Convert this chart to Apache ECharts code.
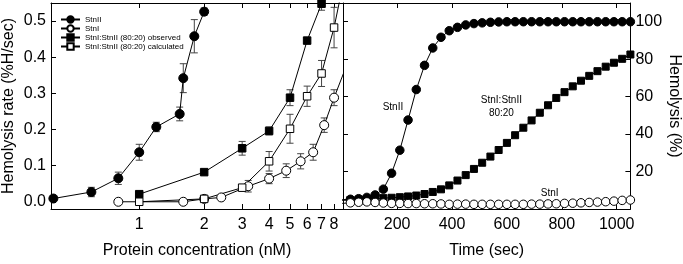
<!DOCTYPE html>
<html><head><meta charset="utf-8">
<script src="https://cdn.jsdelivr.net/npm/echarts@6/dist/echarts.min.js"></script>
<style>html,body{margin:0;padding:0;background:#fff}#c{width:683px;height:264px}</style>
</head><body><div id="c"></div>
<script>
// ---- tick labels ----
const concTicks = [1, 2, 3, 4, 5, 6, 7, 8];
const rateTicks = [0, 0.1, 0.2, 0.3, 0.4, 0.5];
const timeTicks = [200, 400, 600, 800, 1000];
const pctTicks = [20, 40, 60, 80, 100];

// ---- left panel: hemolysis rate vs concentration ----
const stnIIConc = [0.4, 0.6, 0.8, 1.0, 1.2, 1.54, 1.6, 1.8, 2.0];
const stnIIRate = [0.009, 0.027, 0.065, 0.137, 0.207, 0.243, 0.342, 0.458, 0.526];
const stnIIErr  = [0, 0.013, 0.017, 0.022, 0.013, 0.019, 0.040, 0.046, 0.010];

const stnIConc = [0.8, 1.6, 2.0, 2.4, 3.2, 4.0, 4.8, 5.6, 6.4, 7.2, 8.0, 9.6];
const stnIRate = [0.0, 0.0, 0.008, 0.012, 0.043, 0.064, 0.086, 0.112, 0.137, 0.212, 0.288, 0.41];
const stnIErr  = [0, 0, 0, 0, 0.016, 0.014, 0.019, 0.021, 0.022, 0.02, 0.022, 0];

const obsConc = [1, 2, 3, 4, 5, 6, 7, 8];
const obsRate = [0.021, 0.082, 0.148, 0.196, 0.288, 0.446, 0.548, 0.68];
const obsErr  = [0, 0, 0.019, 0.011, 0.022, 0.008, 0.018, 0];

const calcConc = [1, 2, 3, 4, 5, 6, 7, 8, 9];
const calcRate = [0.0, 0.008, 0.039, 0.112, 0.202, 0.292, 0.355, 0.482, 0.63];
const calcErr  = [0, 0, 0.008, 0.027, 0.04, 0.028, 0.036, 0.056, 0];

// ---- right panel: hemolysis (%) vs time ----
const timeSec = [0, 30, 60, 90, 120, 150, 180, 210, 240, 270, 300, 330, 360, 390, 420, 450, 480, 510,
                 540, 570, 600, 630, 660, 690, 720, 750, 780, 810, 840, 870, 900, 930, 960, 990, 1020, 1050];
const stnIITime = [5.0, 5.2, 5.5, 6.2, 7.5, 10.6, 19.1, 31.4, 47.5, 63.8, 76.7, 86.0, 91.7, 95.2, 97.0, 98.3, 99.0, 99.4,
                   99.7, 99.9, 100, 100, 100, 100, 100, 100, 100, 100, 100, 100, 100, 100, 100, 100, 100, 100];
const mixTime = [4.6, 4.8, 5.1, 5.4, 5.6, 5.8, 6.0, 6.3, 6.7, 7.2, 8.0, 9.1, 10.5, 12.6, 15.2, 18.1, 21.4, 24.7,
                 28.0, 31.5, 35.3, 39.4, 43.4, 47.3, 51.4, 55.4, 59.3, 62.4, 65.5, 68.5, 71.1, 73.6, 76.0, 78.1, 80.2, 82.5];
const stnITime = [3.0, 3.3, 3.6, 3.8, 3.5, 3.2, 3.0, 3.0, 2.9, 2.9, 2.8, 2.8, 2.7, 2.5, 2.6, 2.6, 2.5, 2.5,
                  2.5, 2.5, 2.5, 2.5, 2.5, 2.6, 2.6, 2.7, 2.8, 3.0, 3.1, 3.3, 3.5, 3.7, 3.9, 4.2, 4.6, 4.8];

// annotation texts with their anchor in data coordinates (time, %)
const notes = [
  { text: 'StnII', at: [185, 54.5] },
  { text: 'StnI:StnII', at: [580, 58.2] },
  { text: '80:20', at: [580, 51.3] },
  { text: 'StnI', at: [756, 8.6] }
];

const FONT = '"Liberation Sans", Arial, Helvetica, sans-serif';
const zip = (xs, ys) => xs.map((x, i) => [x, ys[i]]);
const zipErr = (xs, ys, es) => xs.map((x, i) => [x, ys[i], es[i]]).filter(d => d[2] > 0);

function lineSeries(name, xs, ys, symbol, size, filled, xi, yi) {
  return {
    name, type: 'line', xAxisIndex: xi, yAxisIndex: yi, data: zip(xs, ys),
    symbol, symbolSize: size, showSymbol: true, clip: true, z: 3,
    lineStyle: { color: '#000', width: 1 },
    itemStyle: { color: filled ? '#000' : '#fff', borderColor: '#000', borderWidth: 1 },
    emphasis: { disabled: true }
  };
}
function errSeries(xs, ys, es) {
  return {
    type: 'custom', xAxisIndex: 0, yAxisIndex: 0, clip: true, z: 2,
    data: zipErr(xs, ys, es),
    renderItem(params, api) {
      const x = api.value(0), y = api.value(1), e = api.value(2);
      const t = api.coord([x, y + e]), b = api.coord([x, y - e]);
      const w = 3.5, st = { stroke: '#444', lineWidth: 1 };
      return { type: 'group', children: [
        { type: 'line', shape: { x1: t[0], y1: t[1], x2: b[0], y2: b[1] }, style: st },
        { type: 'line', shape: { x1: t[0] - w, y1: t[1], x2: t[0] + w, y2: t[1] }, style: st },
        { type: 'line', shape: { x1: b[0] - w, y1: b[1], x2: b[0] + w, y2: b[1] }, style: st }
      ]};
    }
  };
}

const axLine = { show: true, onZero: false, lineStyle: { color: '#000', width: 1 } };
const tickIn = (vals) => ({ show: true, inside: true, length: 5, customValues: vals, lineStyle: { color: '#000' } });
const lbl = (vals, fmt, extra) => Object.assign({ show: true, customValues: vals, formatter: fmt, color: '#000', fontSize: 16, fontFamily: FONT }, extra || {});
const nameStyle = { color: '#000', fontSize: 16, fontFamily: FONT };

const chart = echarts.init(document.getElementById('c'), null, { renderer: 'canvas' });
chart.setOption({
  animation: false,
  backgroundColor: '#fff',
  grid: [
    { left: 50, top: 3, width: 293, height: 210 },
    { left: 343, top: 3, width: 293, height: 210 }
  ],
  legend: {
    orient: 'vertical', left: 55, top: 10, itemWidth: 19, itemHeight: 8, itemGap: 0,
    textStyle: { fontSize: 8, lineHeight: 9, fontFamily: FONT, color: '#000' },
    data: ['StnII', 'StnI', 'StnI:StnII (80:20) observed', 'StnI:StnII (80:20) calculated']
  },
  xAxis: [
    { type: 'log', logBase: 10, gridIndex: 0, min: 0.39, max: 8.8, position: 'bottom',
      axisLine: axLine, axisTick: tickIn(concTicks), minorTick: { show: false }, splitLine: { show: false },
      axisLabel: lbl(concTicks, v => String(v), { margin: 8 }),
      name: 'Protein concentration (nM)', nameLocation: 'middle', nameGap: 34, nameTextStyle: nameStyle },
    { type: 'log', logBase: 10, gridIndex: 0, min: 0.39, max: 8.8, position: 'top',
      axisLine: axLine, axisTick: tickIn(concTicks), splitLine: { show: false }, axisLabel: { show: false } },
    { type: 'value', gridIndex: 1, min: 3, max: 1050, position: 'bottom',
      axisLine: axLine, axisTick: tickIn(timeTicks), splitLine: { show: false },
      axisLabel: lbl(timeTicks, v => String(v), { margin: 8 }),
      name: 'Time (sec)', nameLocation: 'middle', nameGap: 34, nameTextStyle: nameStyle },
    { type: 'value', gridIndex: 1, min: 3, max: 1050, position: 'top',
      axisLine: axLine, axisTick: tickIn(timeTicks), splitLine: { show: false }, axisLabel: { show: false } }
  ],
  yAxis: [
    { type: 'value', gridIndex: 0, min: -0.02, max: 0.55, position: 'left',
      axisLine: axLine, axisTick: tickIn(rateTicks), splitLine: { show: false },
      axisLabel: lbl(rateTicks, v => v.toFixed(1), { margin: 5 }),
      name: 'Hemolysis rate (%H/sec)', nameLocation: 'middle', nameGap: 34, nameRotate: 90, nameTextStyle: nameStyle },
    { type: 'value', gridIndex: 1, min: 0, max: 110, position: 'right',
      axisLine: axLine, axisTick: tickIn(pctTicks), splitLine: { show: false },
      axisLabel: lbl(pctTicks, v => String(v), { margin: 5 }),
      name: 'Hemolysis (%)', nameLocation: 'middle', nameGap: 32, nameRotate: -90, nameTextStyle: nameStyle },
    { type: 'value', gridIndex: 1, min: 0, max: 110, position: 'left',
      axisLine: axLine, axisTick: tickIn(pctTicks), splitLine: { show: false }, axisLabel: { show: false } }
  ],
  series: [
    errSeries(stnIIConc, stnIIRate, stnIIErr),
    errSeries(stnIConc, stnIRate, stnIErr),
    errSeries(obsConc, obsRate, obsErr),
    errSeries(calcConc, calcRate, calcErr),
    lineSeries('StnII', stnIIConc, stnIIRate, 'circle', 9, true, 0, 0),
    lineSeries('StnI', stnIConc, stnIRate, 'circle', 9, false, 0, 0),
    lineSeries('StnI:StnII (80:20) observed', obsConc, obsRate, 'rect', 7.5, true, 0, 0),
    lineSeries('StnI:StnII (80:20) calculated', calcConc, calcRate, 'rect', 7.5, false, 0, 0),
    lineSeries('t-StnII', timeSec, stnIITime, 'circle', 8.5, true, 2, 1),
    lineSeries('t-mix', timeSec, mixTime, 'rect', 7, true, 2, 1),
    lineSeries('t-StnI', timeSec, stnITime, 'circle', 8.5, false, 2, 1)
  ]
});

const graphics = notes.map(n => {
  const p = chart.convertToPixel({ xAxisIndex: 2, yAxisIndex: 1 }, n.at);
  return { type: 'text', x: p[0], y: p[1], z: 10,
    style: { text: n.text, fill: '#000', fontSize: 10, fontFamily: FONT, align: 'center', verticalAlign: 'middle' } };
});
chart.setOption({ graphic: graphics });
</script>
</body></html>
